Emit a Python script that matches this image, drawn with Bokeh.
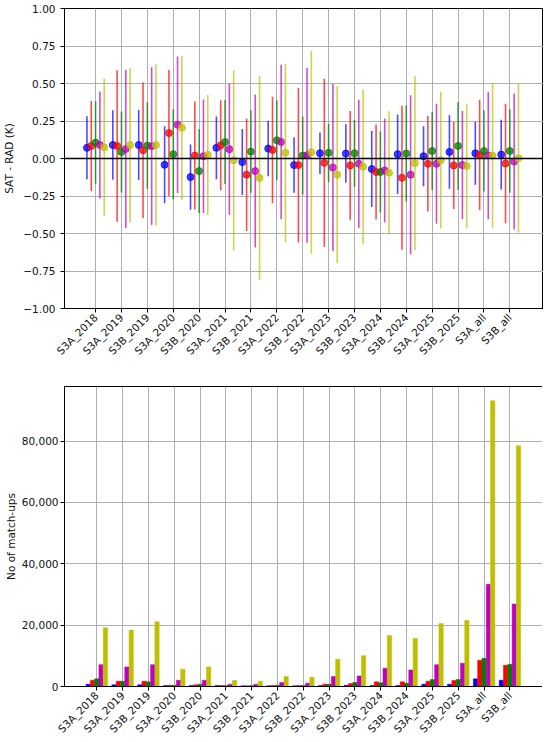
import math
from bokeh.plotting import figure
from bokeh.layouts import column
from bokeh.models import FixedTicker, NumeralTickFormatter, CustomJSTickFormatter, Span, Range1d
from bokeh.embed import file_html
from bokeh.resources import INLINE

categories = ["S3A_2018", "S3A_2019", "S3B_2019", "S3A_2020", "S3B_2020", "S3A_2021",
              "S3B_2021", "S3A_2022", "S3B_2022", "S3A_2023", "S3B_2023", "S3A_2024",
              "S3B_2024", "S3A_2025", "S3B_2025", "S3A_all", "S3B_all"]

# SAT - RAD mean differences (K) per series
mean_blue = [0.071, 0.09, 0.09, -0.042, -0.124, 0.071, -0.024, 0.066, -0.044, 0.035, 0.033, -0.07, 0.029, 0.015, 0.044, 0.035, 0.026]
mean_red = [0.084, 0.084, 0.055, 0.17, 0.02, 0.088, -0.108, 0.057, -0.044, -0.029, -0.046, -0.09, -0.128, -0.035, -0.046, 0.024, -0.033]
mean_green = [0.106, 0.044, 0.086, 0.029, -0.084, 0.11, 0.046, 0.121, 0.02, 0.038, 0.035, -0.09, 0.033, 0.05, 0.084, 0.05, 0.05]
mean_magenta = [0.09, 0.064, 0.082, 0.225, 0.015, 0.062, -0.084, 0.11, 0.022, -0.06, -0.035, -0.08, -0.108, -0.035, -0.044, 0.02, -0.02]
mean_yellow = [0.075, 0.09, 0.09, 0.205, 0.024, -0.011, -0.13, 0.038, 0.042, -0.108, -0.055, -0.095, -0.031, -0.011, -0.05, 0.02, 0.002]

# standard deviations (K)
std_blue = [0.21, 0.232, 0.234, 0.257, 0.217, 0.209, 0.22, 0.185, 0.185, 0.139, 0.195, 0.253, 0.265, 0.20, 0.245, 0.21, 0.232]
std_red = [0.30, 0.505, 0.452, 0.42, 0.36, 0.30, 0.375, 0.355, 0.516, 0.56, 0.363, 0.317, 0.48, 0.318, 0.29, 0.367, 0.398]
std_green = [0.275, 0.27, 0.288, 0.30, 0.28, 0.28, 0.275, 0.266, 0.26, 0.194, 0.224, 0.27, 0.32, 0.26, 0.293, 0.27, 0.278]
std_magenta = [0.356, 0.527, 0.526, 0.455, 0.378, 0.437, 0.51, 0.515, 0.583, 0.556, 0.427, 0.347, 0.53, 0.40, 0.36, 0.425, 0.453]
std_yellow = [0.458, 0.515, 0.538, 0.48, 0.40, 0.60, 0.68, 0.594, 0.677, 0.59, 0.517, 0.41, 0.58, 0.455, 0.415, 0.485, 0.495]

# number of match-ups per series
n_blue = [760, 540, 540, 320, 320, 320, 220, 220, 220, 320, 430, 320, 320, 760, 760, 2490, 2050]
n_red = [2050, 1730, 1730, 430, 540, 320, 220, 320, 320, 760, 970, 1510, 1510, 1730, 1950, 8540, 6920]
n_green = [2490, 1730, 1510, 430, 760, 320, 320, 430, 320, 760, 1300, 1190, 1080, 2270, 2270, 9190, 7240]
n_magenta = [7130, 6380, 7130, 2050, 2050, 760, 760, 1300, 1080, 3240, 3460, 5950, 5400, 7130, 7570, 33300, 26900]
n_yellow = [19130, 18380, 21080, 5620, 6380, 1950, 1730, 3240, 3030, 8860, 10050, 16650, 15670, 20540, 21510, 93150, 78500]

y_ticks_top = [-1.0, -0.75, -0.5, -0.25, 0.0, 0.25, 0.5, 0.75, 1.0]
y_ticks_bottom = [0, 20000, 40000, 60000, 80000]

means = [mean_blue, mean_red, mean_green, mean_magenta, mean_yellow]
stds = [std_blue, std_red, std_green, std_magenta, std_yellow]
counts = [n_blue, n_red, n_green, n_magenta, n_yellow]
colors = ["#0000ff", "#ff0000", "#008000", "#bf00bf", "#bfbf00"]
FONT = "DejaVu Sans"
FS = "10.5px"
idx = list(range(len(categories)))
overrides = {i: c for i, c in enumerate(categories)}


def style(p):
    p.background_fill_color = "white"
    p.border_fill_color = "white"
    p.outline_line_color = "black"
    p.outline_line_width = 1
    for ax in p.axis:
        ax.axis_line_color = "black"
        ax.major_tick_in = 0
        ax.major_tick_out = 4
        ax.major_tick_line_color = "black"
        ax.minor_tick_line_color = None
        ax.major_label_text_font = FONT
        ax.major_label_text_font_size = FS
        ax.major_label_text_color = "#111111"
        ax.axis_label_text_font = FONT
        ax.axis_label_text_font_size = FS
        ax.axis_label_text_font_style = "normal"
        ax.axis_label_text_color = "#111111"
    p.grid.grid_line_color = "#b0b0b0"
    p.grid.grid_line_width = 1
    p.xaxis.ticker = FixedTicker(ticks=idx)
    p.xaxis.major_label_overrides = overrides
    p.xaxis.major_label_orientation = math.pi / 4
    p.xaxis.major_label_standoff = 3


# ---------- top panel ----------
top = figure(frame_width=479, frame_height=300, x_range=Range1d(-1.2, 17.3),
             y_range=Range1d(-1.0, 1.0), output_backend="svg", toolbar_location=None,
             min_border_top=8, min_border_left=55, min_border_right=0, min_border_bottom=0)
style(top)
top.yaxis.axis_label = "SAT - RAD (K)"
top.yaxis.ticker = FixedTicker(ticks=y_ticks_top)
top.yaxis.formatter = CustomJSTickFormatter(
    code="const s = Math.abs(tick).toFixed(2); return tick < -1e-9 ? '\u2212' + s : s;")

for k in range(5):
    off = (k - 2) / 6.0
    xs = [i + off for i in idx]
    lo = [m - s for m, s in zip(means[k], stds[k])]
    hi = [m + s for m, s in zip(means[k], stds[k])]
    top.segment(x0=xs, y0=lo, x1=xs, y1=hi, line_color=colors[k], line_width=1.6, line_alpha=0.7)
    top.scatter(x=xs, y=means[k], size=7, fill_color=colors[k], line_color=colors[k],
                fill_alpha=0.75, line_alpha=0.75)

top.add_layout(Span(location=0, dimension="width", line_color="black", line_width=1.5))

# ---------- bottom panel ----------
bot = figure(frame_width=479, frame_height=300, x_range=Range1d(-1.25, 17.3),
             y_range=Range1d(0, 97800), output_backend="svg", toolbar_location=None,
             min_border_top=22, min_border_left=55, min_border_right=0, min_border_bottom=0)
style(bot)
bot.yaxis.axis_label = "No of match-ups"
bot.yaxis.ticker = FixedTicker(ticks=y_ticks_bottom)
bot.yaxis.formatter = NumeralTickFormatter(format="0,0")
bot.yaxis.major_label_standoff = 2
bot.yaxis.axis_label_standoff = 2

for k in range(5):
    off = (k - 2) / 6.0
    xs = [i + off for i in idx]
    bot.vbar(x=xs, top=counts[k], bottom=0, width=1 / 6.0, fill_color=colors[k],
             line_color=colors[k], line_width=0.5)

layout = column(top, bot, spacing=0)
open("out.html", "w").write(file_html(layout, INLINE))
